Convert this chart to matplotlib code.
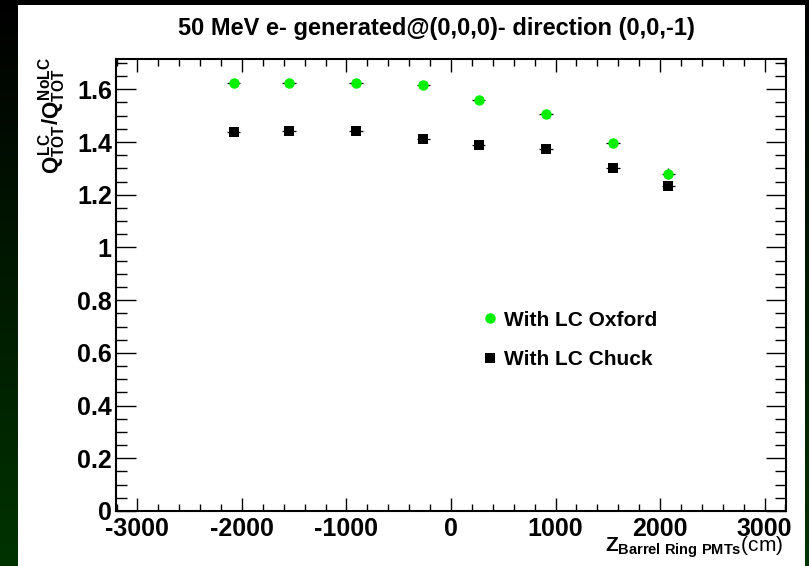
import numpy as np
import matplotlib
matplotlib.use("Agg")
import matplotlib.pyplot as plt
from matplotlib.colors import LinearSegmentedColormap
from matplotlib.lines import Line2D
from matplotlib.patches import Rectangle
from matplotlib.ticker import MultipleLocator, FormatStrFormatter

plt.rcParams['font.family'] = ['Liberation Sans', 'DejaVu Sans']
plt.rcParams['font.weight'] = 'bold'
plt.rcParams['axes.unicode_minus'] = False
plt.rcParams['mathtext.fontset'] = 'custom'
plt.rcParams['mathtext.rm'] = 'Liberation Sans:bold'
plt.rcParams['mathtext.it'] = 'Liberation Sans:bold'
plt.rcParams['mathtext.bf'] = 'Liberation Sans:bold'

# ring positions (cm) and charge ratios
z_ring = [-2080, -1550, -910, -265, 265, 910, 1550, 2080]
z_err = [65, 65, 65, 65, 65, 65, 65, 65]
ratio_oxford = [1.623, 1.623, 1.623, 1.618, 1.559, 1.505, 1.395, 1.280]
err_oxford = [0.005, 0.005, 0.005, 0.006, 0.007, 0.008, 0.010, 0.020]
ratio_chuck = [1.438, 1.443, 1.443, 1.411, 1.388, 1.374, 1.302, 1.232]
err_chuck = [0.005, 0.005, 0.005, 0.006, 0.007, 0.008, 0.010, 0.012]

W, H = 809, 566
fig = plt.figure(figsize=(W / 100, H / 100), dpi=100)

# slide background: black -> dark green, white ROOT canvas on top
bg = fig.add_axes([0, 0, 1, 1])
cmap_bg = LinearSegmentedColormap.from_list('bg', ['#000000', '#003300'])
bg.imshow(np.linspace(0, 1, 256).reshape(-1, 1), cmap=cmap_bg, aspect='auto',
          extent=[0, 1, 0, 1], origin='upper')
bg.add_patch(Rectangle((18 / W, 0), (805 - 18) / W, 1 - 5 / H,
                       facecolor='white', edgecolor='none'))
bg.set_xlim(0, 1)
bg.set_ylim(0, 1)
bg.axis('off')

ax = fig.add_axes([116 / W, (H - 511) / H, (786 - 116) / W, (511 - 59) / H])
ax.errorbar(z_ring, ratio_oxford, xerr=z_err, yerr=err_oxford, fmt='o',
            color='#00f000', ecolor='black', elinewidth=0.9, capsize=0,
            markersize=7.5, markeredgewidth=0, zorder=3)
ax.errorbar(z_ring, ratio_chuck, xerr=z_err, yerr=err_chuck, fmt='s',
            color='black', ecolor='black', elinewidth=0.9, capsize=0,
            markersize=6.8, markeredgewidth=0, zorder=3)

ax.set_xlim(-3205, 3205)
ax.set_ylim(0, 1.715)
ax.xaxis.set_major_locator(MultipleLocator(1000))
ax.xaxis.set_minor_locator(MultipleLocator(200))
ax.yaxis.set_major_locator(MultipleLocator(0.2))
ax.yaxis.set_minor_locator(MultipleLocator(0.05))
ax.yaxis.set_major_formatter(FormatStrFormatter('%g'))

for s in ax.spines.values():
    s.set_linewidth(1.5)
ax.tick_params(axis='both', which='both', direction='in', top=True, right=True,
               width=1.0, labelsize=18)
ax.tick_params(axis='x', which='major', length=9.5, pad=4)
ax.tick_params(axis='x', which='minor', length=5)
ax.tick_params(axis='y', which='major', length=14.5, pad=3)
ax.tick_params(axis='y', which='minor', length=8)

ax.set_ylabel(r'$Q^{LC}_{TOT}/Q^{NoLC}_{TOT}$', fontsize=16, loc='top')
ax.yaxis.label.set(rotation_mode='default', ha='center', va='top')
ax.yaxis.set_label_coords((52 - 116) / 670, (511 - 57) / 452)

ax.set_xlabel(r'$Z_{Barrel\ Ring\ PMTs}$(cm)', fontsize=15, loc='right')
ax.xaxis.label.set(ha='right', va='center')
ax.xaxis.set_label_coords((783 - 116) / 670, (511 - 547) / 452)

fig.text(436 / W, 1 - 28 / H, '50 MeV e- generated@(0,0,0)- direction (0,0,-1)',
         ha='center', va='center', fontsize=17, fontweight='bold')

handles = [Line2D([], [], marker='o', ls='none', color='#00f000', markersize=7.5,
                  markeredgewidth=0),
           Line2D([], [], marker='s', ls='none', color='black', markersize=6.8,
                  markeredgewidth=0)]
ax.legend(handles, ['With LC Oxford', 'With LC Chuck'], loc='center left',
          bbox_to_anchor=(480 / W, 1 - 340 / H), bbox_transform=fig.transFigure,
          frameon=False, fontsize=15, handlelength=1.0, handletextpad=0.15,
          labelspacing=1.0, borderpad=0, borderaxespad=0)

fig.savefig('out.png', dpi=100)
